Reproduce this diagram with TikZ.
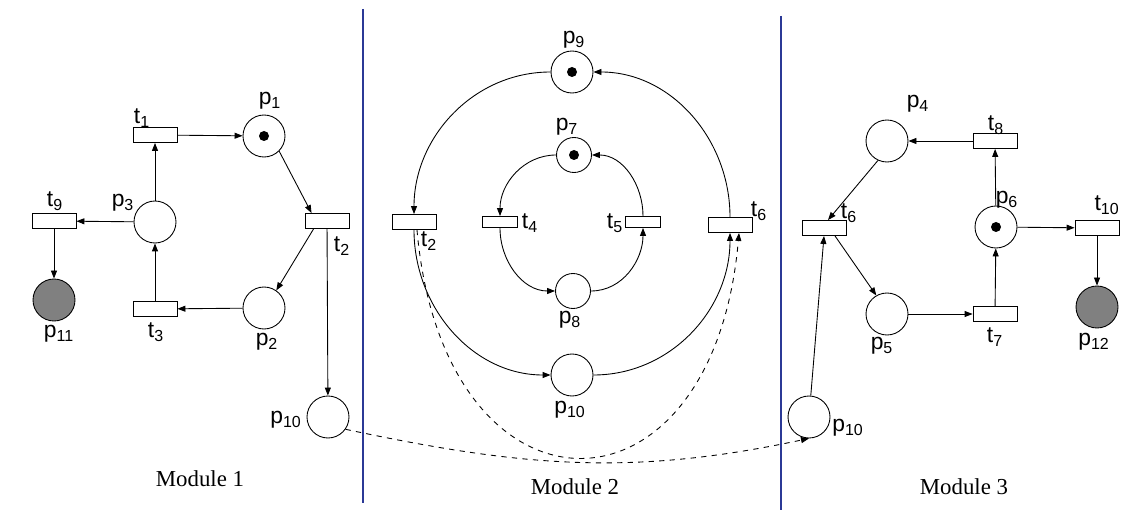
\documentclass[tikz,border=0pt]{standalone}
\usepackage{fontspec}
\setmainfont{Liberation Serif}
\newfontfamily\arialfont{Liberation Sans}
\usetikzlibrary{arrows.meta}
\definecolor{sepblue}{RGB}{43,57,150}
\definecolor{endgray}{RGB}{128,128,128}
\tikzset{
  place/.style={circle, draw, line width=0.5pt, minimum size=0.84cm, inner sep=0pt},
  smallplace/.style={place, minimum size=0.7cm},
  marked/.style={path picture={\fill (path picture bounding box.center) circle (0.1);}},
  endplace/.style={place, fill=endgray},
  trans/.style={rectangle, draw, line width=0.5pt, minimum width=0.88cm, minimum height=0.3cm, inner sep=0pt},
  smalltrans/.style={trans, minimum width=0.7cm, minimum height=0.22cm},
  lbl/.style={font=\arialfont\fontsize{13}{15}\selectfont, inner sep=0pt},
  modlbl/.style={font=\fontsize{13}{15}\selectfont, inner sep=0pt},
  flow/.style={line width=0.5pt, -{Triangle[length=1.6mm,width=1.2mm]}},
  sep/.style={line width=1.1pt, sepblue}
}

\begin{document}
\begin{tikzpicture}
\useasboundingbox (0,0) rectangle (22.84,-10.2);
%% separators
  \draw[sep] (7.26,-0.18) -- (7.26,-10.06);
  \draw[sep] (15.62,-0.32) -- (15.62,-10.2);
%% module 1
  \node[trans] (t1) at (3.10,-2.70) {};
  \node[place, marked] (p1) at (5.28,-2.72) {};
  \node[trans] (t2a) at (6.54,-4.42) {};
  \node[place] (p3) at (3.10,-4.44) {};
  \node[trans] (t9) at (1.08,-4.42) {};
  \node[endplace] (p11) at (1.08,-6.00) {};
  \node[trans] (t3) at (3.10,-6.18) {};
  \node[place] (p2) at (5.28,-6.16) {};
  \node[place] (p10a) at (6.56,-8.34) {};
  \node[lbl] (lt1) at (2.84,-2.36) {t\textsubscript{1}};
  \node[lbl] (lp1) at (5.40,-2.02) {p\textsubscript{1}};
  \node[lbl] (lp3) at (2.46,-4.06) {p\textsubscript{3}};
  \node[lbl] (lt9) at (1.10,-4.02) {t\textsubscript{9}};
  \node[lbl] (lt2a) at (6.84,-4.92) {t\textsubscript{2}};
  \node[lbl] (lp11) at (1.18,-6.68) {p\textsubscript{11}};
  \node[lbl] (lt3) at (3.12,-6.64) {t\textsubscript{3}};
  \node[lbl] (lp2) at (5.34,-6.84) {p\textsubscript{2}};
  \node[lbl] (lp10a) at (5.72,-8.40) {p\textsubscript{10}};
  \node[modlbl] (mod1) at (4.00,-9.58) {Module 1};
  \draw[flow] (p3) -- (t1);
  \draw[flow] (t1) -- (p1);
  \draw[flow] (p1.-45) -- ([xshift=0.14cm]t2a.north west);
  \draw[flow] ([xshift=0.18cm]t2a.south west) -- (p2.55);
  \draw[flow] (t2a) -- (p10a);
  \draw[flow] (p2) -- (t3);
  \draw[flow] (t3) -- (p3);
  \draw[flow] (p3) -- (t9);
  \draw[flow] (t9) -- (p11);
%% module 2
  \node[place, marked] (p9) at (11.44,-1.44) {};
  \node[smallplace, marked] (p7) at (11.48,-3.10) {};
  \node[trans] (t2b) at (8.28,-4.44) {};
  \node[smalltrans] (t4) at (10.00,-4.44) {};
  \node[smalltrans] (t5) at (12.86,-4.44) {};
  \node[trans] (t6b) at (14.60,-4.50) {};
  \node[smallplace] (p8) at (11.46,-5.82) {};
  \node[place] (p10b) at (11.44,-7.50) {};
  \node[lbl] (lp9) at (11.48,-0.80) {p\textsubscript{9}};
  \node[lbl] (lp7) at (11.34,-2.54) {p\textsubscript{7}};
  \node[lbl] (lt2b) at (8.58,-4.82) {t\textsubscript{2}};
  \node[lbl] (lt4) at (10.60,-4.46) {t\textsubscript{4}};
  \node[lbl] (lt5) at (12.30,-4.46) {t\textsubscript{5}};
  \node[lbl] (lt6b) at (15.18,-4.22) {t\textsubscript{6}};
  \node[lbl] (lp8) at (11.40,-6.40) {p\textsubscript{8}};
  \node[lbl] (lp10b) at (11.40,-8.20) {p\textsubscript{10}};
  \node[modlbl] (mod2) at (11.50,-9.74) {Module 2};
  \draw[flow] (p9) to[out=180,in=90] (t2b);
  \draw[flow] (t2b) to[out=-90,in=180] (p10b);
  \draw[flow] (p10b) to[out=0,in=-90] (t6b);
  \draw[flow] (t6b) to[out=90,in=0] (p9);
  \draw[flow] (p7) to[out=180,in=90] (t4);
  \draw[flow] (t4) to[out=-90,in=180] (p8);
  \draw[flow] (p8) to[out=0,in=-90] (t5);
  \draw[flow] (t5) to[out=90,in=0] (p7);
%% module 3
  \node[place] (p4) at (17.74,-2.82) {};
  \node[trans] (t8) at (19.90,-2.82) {};
  \node[trans] (t6c) at (16.48,-4.56) {};
  \node[place, marked] (p6) at (19.92,-4.54) {};
  \node[trans] (t10) at (21.94,-4.56) {};
  \node[endplace] (p12) at (21.94,-6.14) {};
  \node[place] (p5) at (17.74,-6.28) {};
  \node[trans] (t7) at (19.90,-6.28) {};
  \node[place] (p10c) at (16.18,-8.34) {};
  \node[lbl] (lp4) at (18.36,-2.08) {p\textsubscript{4}};
  \node[lbl] (lt8) at (19.92,-2.50) {t\textsubscript{8}};
  \node[lbl] (lt6c) at (16.98,-4.26) {t\textsubscript{6}};
  \node[lbl] (lp6) at (20.14,-4.00) {p\textsubscript{6}};
  \node[lbl] (lt10) at (22.14,-4.10) {t\textsubscript{10}};
  \node[lbl] (lp5) at (17.64,-6.92) {p\textsubscript{5}};
  \node[lbl] (lt7) at (19.90,-6.74) {t\textsubscript{7}};
  \node[lbl] (lp12) at (21.88,-6.84) {p\textsubscript{12}};
  \node[lbl] (lp10c) at (16.96,-8.56) {p\textsubscript{10}};
  \node[modlbl] (mod3) at (19.28,-9.74) {Module 3};
  \draw[flow] (t8) -- (p4);
  \draw[flow] (p4.-115) -- ([xshift=0.08cm]t6c.north);
  \draw[flow] ([xshift=0.22cm]t6c.south) -- (p5.120);
  \draw[flow] (p5) -- (t7);
  \draw[flow] (t7) -- (p6);
  \draw[flow] (p6) -- (t8);
  \draw[flow] (p6) -- (t10);
  \draw[flow] (t10) -- (p12);
  \draw[flow] (p10c) -- (t6c.south);
%% shared p10 and t2/t6
  \draw[flow, dashed] (p10a.-35) to[out=-12,in=192] (p10c.south);
  \draw[flow, dashed] ([xshift=0.06cm]t2b.south) to[out=-85,in=-95,looseness=2.4] ([xshift=0.18cm]t6b.south);
\end{tikzpicture}
\end{document}
